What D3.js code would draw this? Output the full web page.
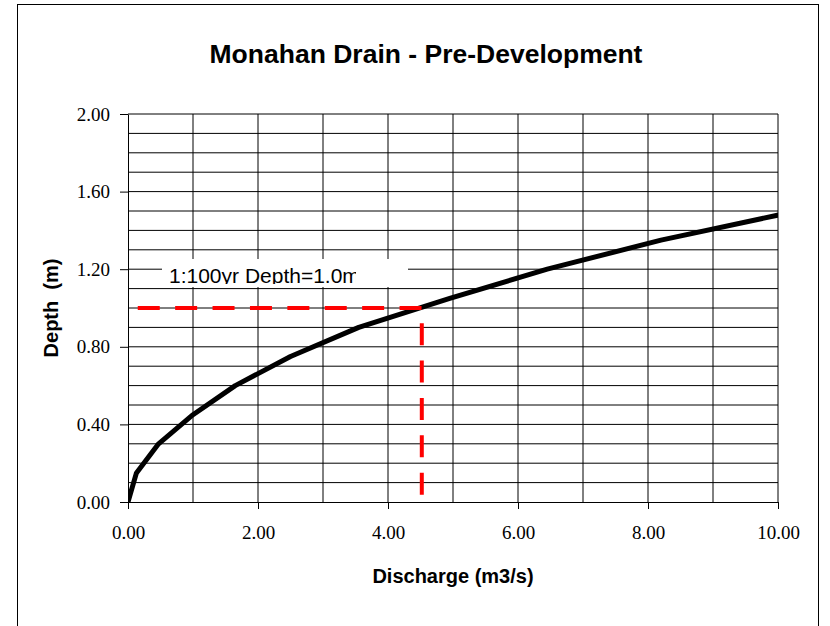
<!DOCTYPE html>
<html>
<head>
<meta charset="utf-8">
<script src="https://cdn.jsdelivr.net/npm/d3@7"></script>
<style>
  body { margin: 0; background: #fff; }
  svg { display: block; }
</style>
</head>
<body>
<svg id="chart" width="830" height="626"></svg>
<script>
// Rating curve: discharge (m3/s) against flow depth (m)
const discharge = [0, 0.13, 0.47, 1.0, 1.65, 2.5, 3.55, 4.95, 6.45, 8.2, 10.3];
const depth     = [0, 0.15, 0.30, 0.45, 0.60, 0.75, 0.90, 1.05, 1.20, 1.35, 1.50];

// 1:100 year design depth marker
const designQ     = [0.15, 4.52, 4.52];
const designDepth = [1.0, 1.0, 0];

const xTicks = [0, 2, 4, 6, 8, 10];
const yTicks = [0, 0.4, 0.8, 1.2, 1.6, 2.0];
const xGrid  = [1, 2, 3, 4, 5, 6, 7, 8, 9, 10];
const yGrid  = [0.1, 0.2, 0.3, 0.4, 0.5, 0.6, 0.7, 0.8, 0.9, 1.0,
                1.1, 1.2, 1.3, 1.4, 1.5, 1.6, 1.7, 1.8, 1.9, 2.0];

const titleText = "Monahan Drain - Pre-Development";
const xLabel = "Discharge (m3/s)";
const yLabel = "Depth  (m)";
const noteText = "1:100yr Depth=1.0m";

const svg = d3.select("#chart");
const plot = { left: 128, right: 778, top: 114, bottom: 502 };

const x = d3.scaleLinear().domain([0, 10]).range([plot.left, plot.right]);
const y = d3.scaleLinear().domain([0, 2]).range([plot.bottom, plot.top]);

const sans = "'Liberation Sans', Arial, sans-serif";
const serif = "'Liberation Serif', 'Times New Roman', serif";

// outer frame
svg.append("rect")
  .attr("x", 17.5).attr("y", 4.5)
  .attr("width", 801).attr("height", 660)
  .attr("fill", "#fff").attr("stroke", "#000").attr("stroke-width", 1);

// title
svg.append("text")
  .attr("x", 426).attr("y", 63)
  .attr("text-anchor", "middle")
  .attr("font-family", sans).attr("font-weight", "bold").attr("font-size", 26.5)
  .text(titleText);

// grid
const grid = svg.append("g").attr("stroke", "#000").attr("stroke-width", 1);
grid.selectAll("line.h").data(yGrid).join("line").attr("class", "h")
  .attr("x1", plot.left).attr("x2", plot.right)
  .attr("y1", d => y(d)).attr("y2", d => y(d));
grid.selectAll("line.v").data(xGrid).join("line").attr("class", "v")
  .attr("x1", d => x(d)).attr("x2", d => x(d))
  .attr("y1", plot.top).attr("y2", plot.bottom);

// axes
const xAxis = svg.append("g")
  .attr("transform", `translate(0,${plot.bottom})`)
  .call(d3.axisBottom(x).tickValues(xTicks).tickFormat(d3.format(".2f"))
        .tickSize(7).tickSizeOuter(0).tickPadding(17));
const yAxis = svg.append("g")
  .attr("transform", `translate(${plot.left},0)`)
  .call(d3.axisLeft(y).tickValues(yTicks).tickFormat(d3.format(".2f"))
        .tickSize(8).tickSizeOuter(0).tickPadding(10));
[xAxis, yAxis].forEach(a => {
  a.selectAll("text").attr("font-family", serif).attr("font-size", 19).attr("fill", "#000");
  a.selectAll("line, path").attr("stroke", "#000");
});

// axis titles
svg.append("text")
  .attr("x", (plot.left + plot.right) / 2).attr("y", 583)
  .attr("text-anchor", "middle")
  .attr("font-family", sans).attr("font-weight", "bold").attr("font-size", 20)
  .text(xLabel);
svg.append("text")
  .attr("transform", `translate(58,${(plot.top + plot.bottom) / 2}) rotate(-90)`)
  .attr("text-anchor", "middle")
  .attr("font-family", sans).attr("font-weight", "bold").attr("font-size", 20)
  .style("white-space", "pre")
  .text(yLabel);

// clip marks to the plot area
svg.append("clipPath").attr("id", "plotClip")
  .append("rect")
  .attr("x", plot.left).attr("y", plot.top)
  .attr("width", plot.right - plot.left).attr("height", plot.bottom - plot.top);

// annotation box
svg.append("clipPath").attr("id", "noteClip")
  .append("rect").attr("x", 162).attr("y", 259).attr("width", 194).attr("height", 25);
svg.append("rect")
  .attr("x", 162).attr("y", 259).attr("width", 246).attr("height", 28)
  .attr("fill", "#fff");
svg.append("text")
  .attr("x", 169).attr("y", 283)
  .attr("clip-path", "url(#noteClip)")
  .attr("font-family", sans).attr("font-size", 21).attr("fill", "#000")
  .text(noteText);

// rating curve
const curve = discharge.map((q, i) => [q, depth[i]]);
svg.append("path")
  .datum(curve)
  .attr("clip-path", "url(#plotClip)")
  .attr("fill", "none").attr("stroke", "#000").attr("stroke-width", 5)
  .attr("stroke-linejoin", "round")
  .attr("d", d3.line().x(d => x(d[0])).y(d => y(d[1])));

// design depth marker
const marker = designQ.map((q, i) => [q, designDepth[i]]);
svg.append("path")
  .datum(marker)
  .attr("fill", "none").attr("stroke", "#ff0000").attr("stroke-width", 4)
  .attr("stroke-dasharray", "22,15.4")
  .attr("d", d3.line().x(d => x(d[0])).y(d => y(d[1])));
</script>
</body>
</html>
